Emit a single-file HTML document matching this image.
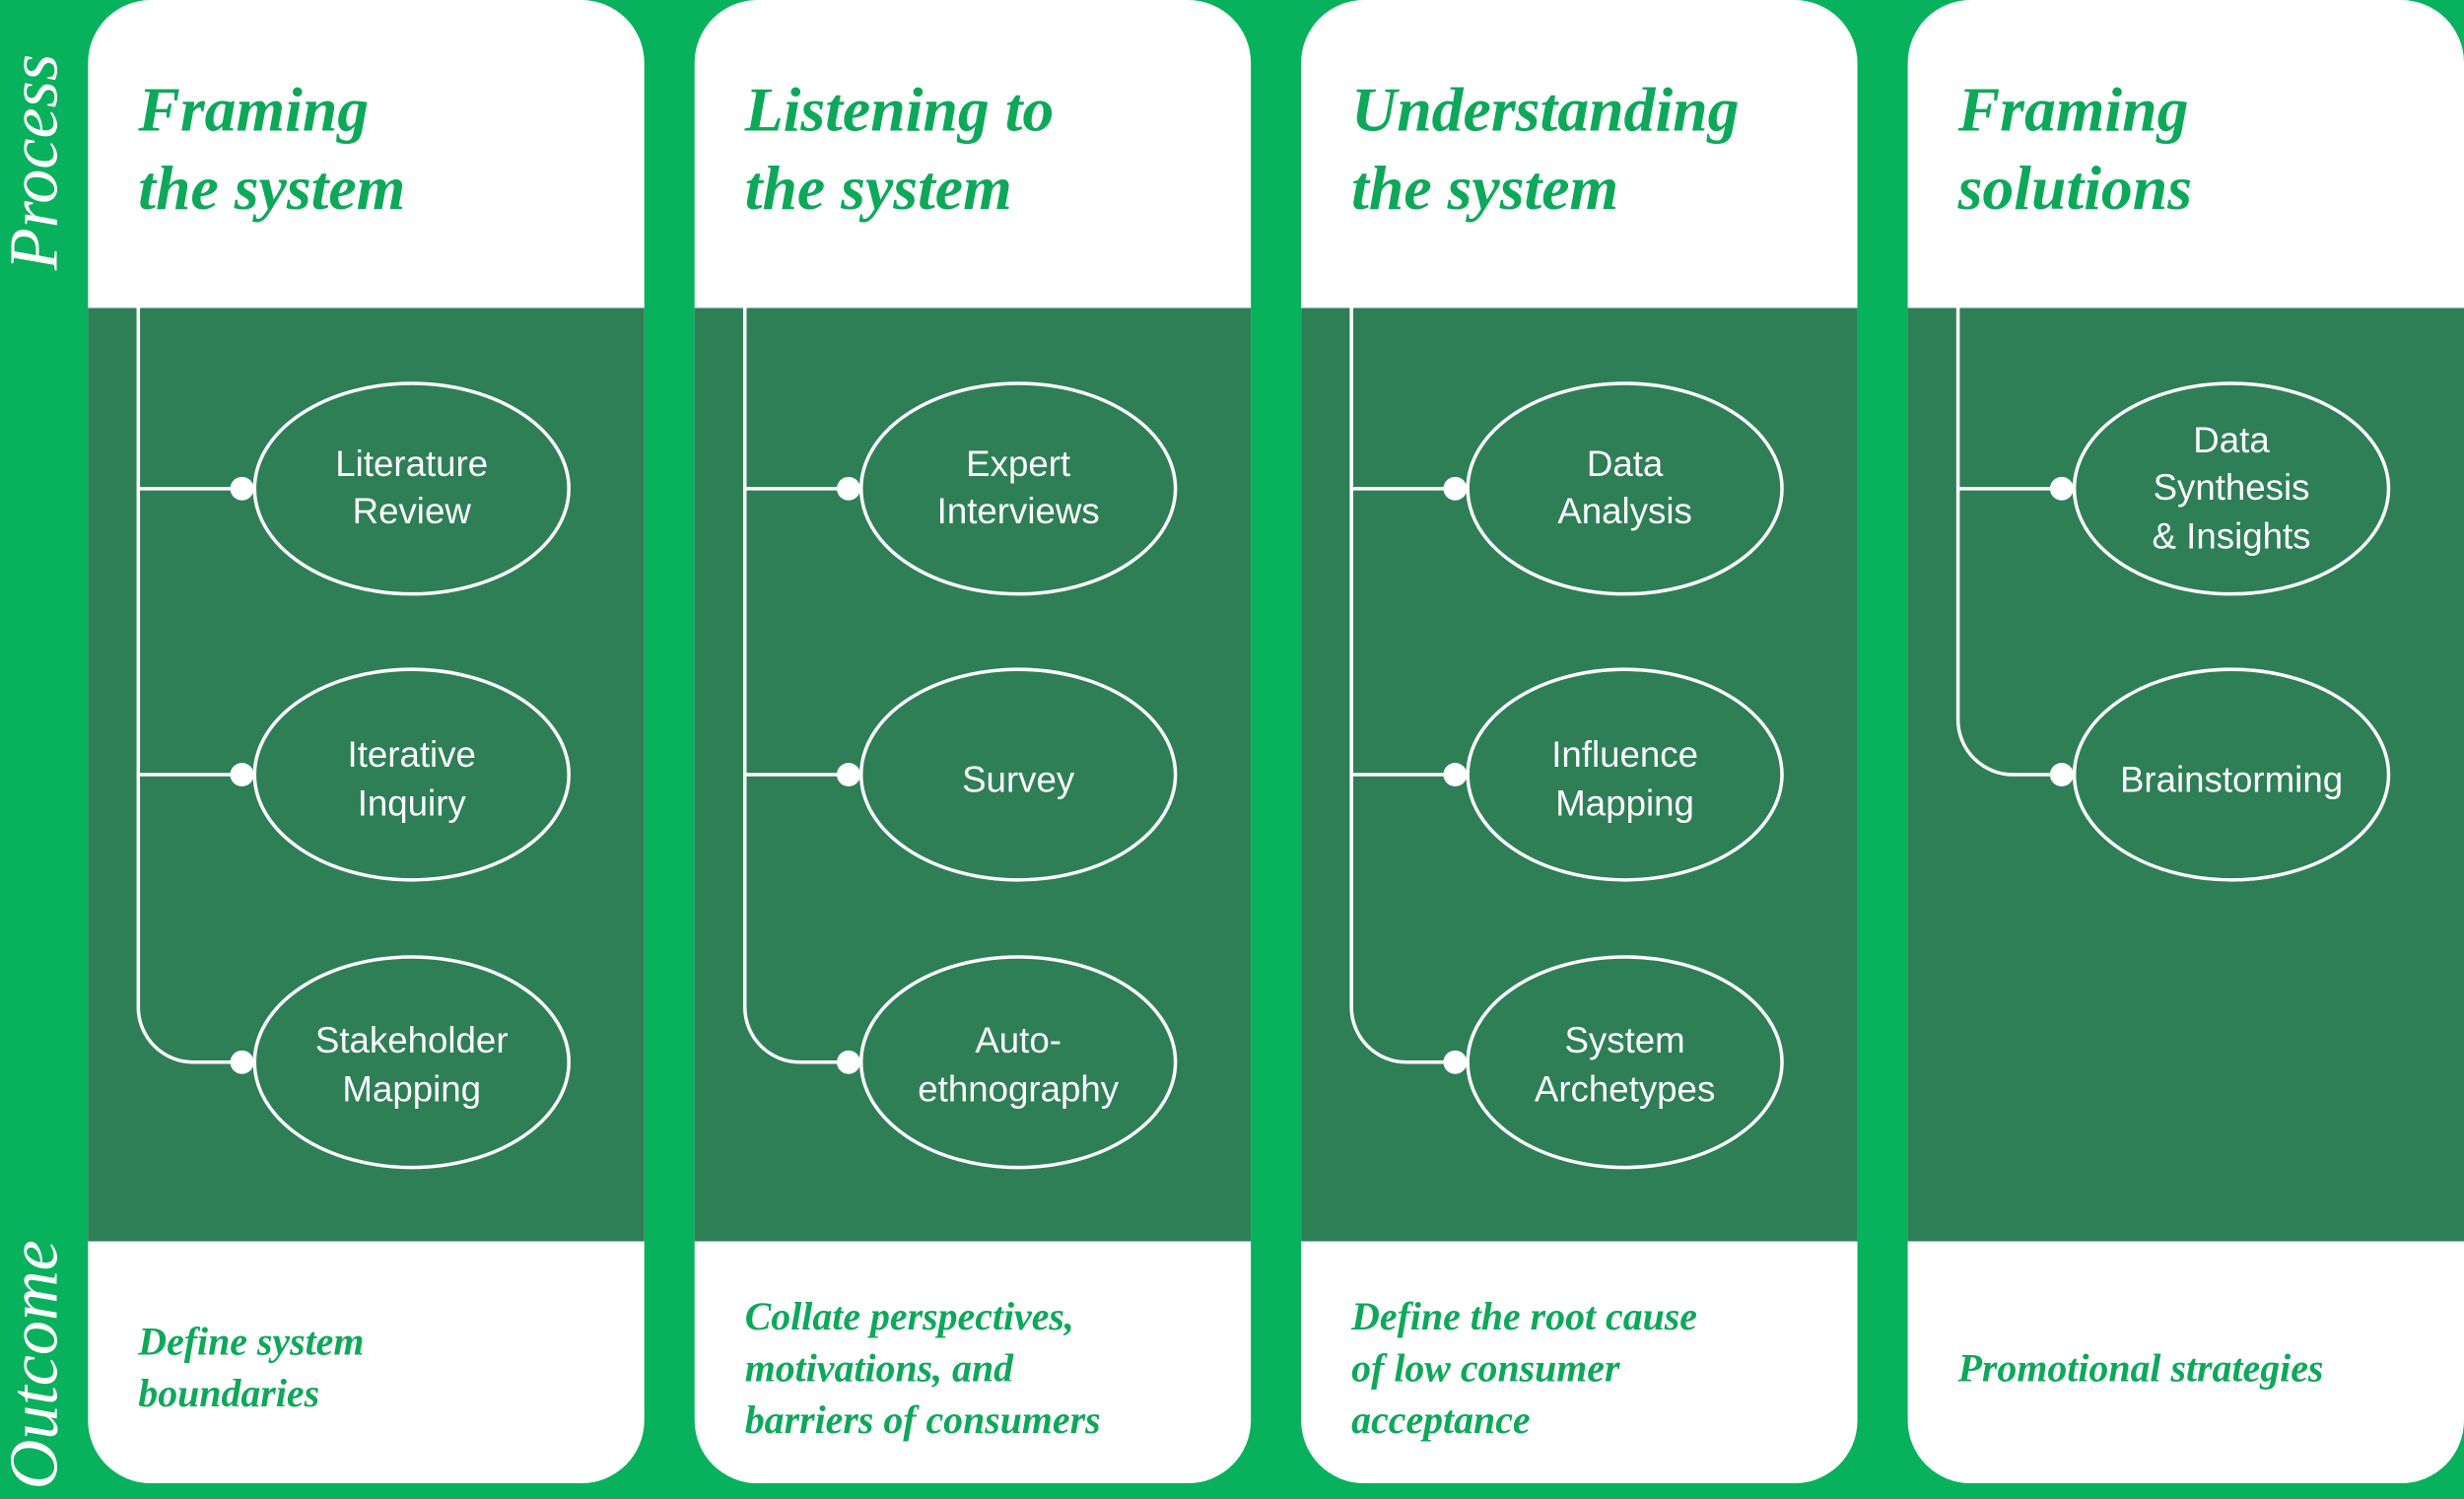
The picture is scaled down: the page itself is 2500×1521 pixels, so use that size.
<!DOCTYPE html>
<html><head><meta charset="utf-8"><style>html,body{margin:0;padding:0;background:#08b15c}svg{display:block}</style></head>
<body>
<svg width="2500" height="1521" viewBox="0 0 1568 954" preserveAspectRatio="none" xmlns="http://www.w3.org/2000/svg">
<rect width="1568" height="954" fill="#08b15c"/>
<defs>
<g id="card">
<rect x="0" y="0" width="354" height="944" rx="40" fill="#ffffff"/>
<rect x="0" y="196" width="354" height="594" fill="#2e7f56"/>
</g>
</defs>
<use href="#card" x="56"/>
<use href="#card" x="442"/>
<use href="#card" x="828"/>
<use href="#card" x="1214"/>
<g fill="none" stroke="#fff" stroke-width="2.2">
<path d="M88 196 V641 A35 35 0 0 0 123 676 H154 M88 311 H154 M88 493 H154"/>
<path d="M474 196 V641 A35 35 0 0 0 509 676 H540 M474 311 H540 M474 493 H540"/>
<path d="M860 196 V641 A35 35 0 0 0 895 676 H926 M860 311 H926 M860 493 H926"/>
<path d="M1246 196 V458 A35 35 0 0 0 1281 493 H1312 M1246 311 H1312"/>
<ellipse cx="262" cy="311" rx="100" ry="67"/><ellipse cx="262" cy="493" rx="100" ry="67"/><ellipse cx="262" cy="676" rx="100" ry="67"/>
<ellipse cx="648" cy="311" rx="100" ry="67"/><ellipse cx="648" cy="493" rx="100" ry="67"/><ellipse cx="648" cy="676" rx="100" ry="67"/>
<ellipse cx="1034" cy="311" rx="100" ry="67"/><ellipse cx="1034" cy="493" rx="100" ry="67"/><ellipse cx="1034" cy="676" rx="100" ry="67"/>
<ellipse cx="1420" cy="311" rx="100" ry="67"/><ellipse cx="1420" cy="493" rx="100" ry="67"/>
</g>
<g fill="#fff">
<circle cx="154" cy="311" r="7.5"/><circle cx="154" cy="493" r="7.5"/><circle cx="154" cy="676" r="7.5"/>
<circle cx="540" cy="311" r="7.5"/><circle cx="540" cy="493" r="7.5"/><circle cx="540" cy="676" r="7.5"/>
<circle cx="926" cy="311" r="7.5"/><circle cx="926" cy="493" r="7.5"/><circle cx="926" cy="676" r="7.5"/>
<circle cx="1312" cy="311" r="7.5"/><circle cx="1312" cy="493" r="7.5"/>
</g>
<g font-family="Liberation Sans, sans-serif" font-size="23" fill="#fff" text-anchor="middle">
<text x="262" y="303">Literature</text><text x="262" y="333">Review</text>
<text x="262" y="488">Iterative</text><text x="262" y="519">Inquiry</text>
<text x="262" y="670">Stakeholder</text><text x="262" y="701">Mapping</text>
<text x="648" y="303">Expert</text><text x="648" y="333">Interviews</text>
<text x="648" y="504">Survey</text>
<text x="648" y="670">Auto-</text><text x="648" y="701">ethnography</text>
<text x="1034" y="303">Data</text><text x="1034" y="333">Analysis</text>
<text x="1034" y="488">Influence</text><text x="1034" y="519">Mapping</text>
<text x="1034" y="670">System</text><text x="1034" y="701">Archetypes</text>
<text x="1420" y="288">Data</text><text x="1420" y="318">Synthesis</text><text x="1420" y="349">&amp; Insights</text>
<text x="1420" y="504">Brainstorming</text>
</g>
<g font-family="Liberation Serif, serif" font-style="italic" font-weight="bold" font-size="40" fill="#0ea85a">
<text x="88" y="83">Framing</text><text x="88" y="133">the system</text>
<text x="474" y="83">Listening to</text><text x="474" y="133">the system</text>
<text x="860" y="83">Understanding</text><text x="860" y="133">the system</text>
<text x="1246" y="83">Framing</text><text x="1246" y="133">solutions</text>
</g>
<g font-family="Liberation Serif, serif" font-style="italic" font-weight="bold" font-size="25" fill="#0ea85a">
<text x="88" y="862">Define system</text><text x="88" y="895">boundaries</text>
<text x="474" y="846">Collate perspectives,</text><text x="474" y="879">motivations, and</text><text x="474" y="912">barriers of consumers</text>
<text x="860" y="846">Define the root cause</text><text x="860" y="879">of low consumer</text><text x="860" y="912">acceptance</text>
<text x="1246" y="879">Promotional strategies</text>
</g>
<g font-family="Liberation Serif, serif" font-style="italic" font-size="44" fill="#fff">
<text transform="translate(36,172) rotate(-90)">Process</text>
<text transform="translate(36,948) rotate(-90)">Outcome</text>
</g>
</svg>
</body></html>
